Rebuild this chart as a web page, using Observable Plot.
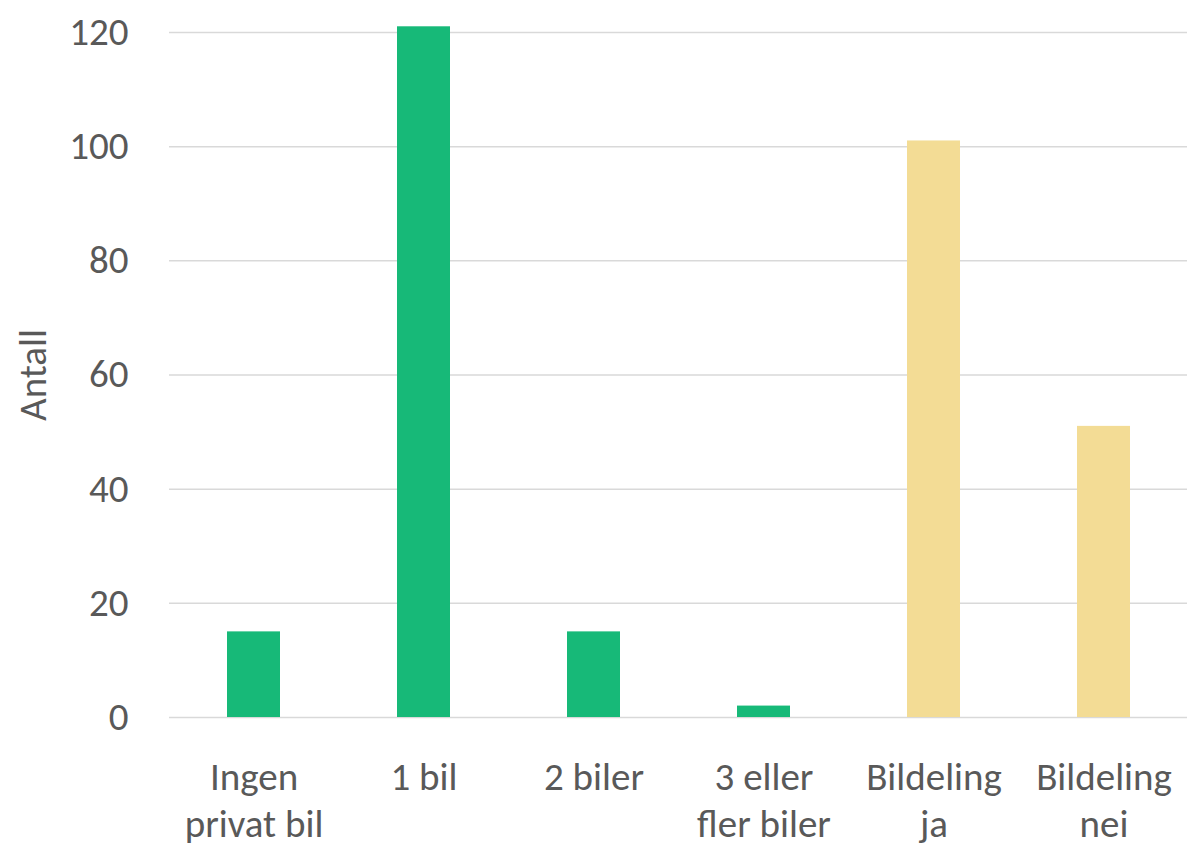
<!DOCTYPE html>
<html>
<head>
<meta charset="utf-8">
<script src="https://cdn.jsdelivr.net/npm/d3@7"></script>
<script src="https://cdn.jsdelivr.net/npm/@observablehq/plot@0.6"></script>
<style>
  html, body { margin: 0; padding: 0; background: #fff; }
  #chart { width: 1187px; height: 844px; }
</style>
</head>
<body>
<div id="chart"></div>
<script>
const categories = ["Ingen privat bil", "1 bil", "2 biler", "3 eller fler biler", "Bildeling ja", "Bildeling nei"];
const tickLabels = ["Ingen\nprivat bil", "1 bil", "2 biler", "3 eller\nfler biler", "Bildeling\nja", "Bildeling\nnei"];
const values = [15, 121, 15, 2, 101, 51];
const groups = ["bil", "bil", "bil", "bil", "deling", "deling"];
const yTicks = [0, 20, 40, 60, 80, 100, 120];

const data = categories.map((c, i) => ({category: c, value: values[i], group: groups[i]}));
const labelOf = new Map(categories.map((c, i) => [c, tickLabels[i]]));

const chart = Plot.plot({
  width: 1187,
  height: 844,
  marginLeft: 169,
  marginRight: 0,
  marginTop: 32,
  marginBottom: 127,
  style: {fontFamily: "Carlito, Calibri, Lato, 'Open Sans', sans-serif", color: "#595959", background: "#fff"},
  x: {domain: categories, range: [169, 1189], paddingInner: 0.688, paddingOuter: 0.344},
  y: {domain: [0, 120]},
  color: {domain: ["bil", "deling"], range: ["#17B978", "#F3DC95"]},
  marks: [
    Plot.ruleY(yTicks, {stroke: "#d9d9d9", strokeWidth: 1.5}),
    Plot.barY(data, {x: "category", y: "value", fill: "group"}),
    Plot.axisY({ticks: yTicks, tickSize: 0, tickPadding: 41, fontSize: 39, label: "Antall", labelAnchor: "center", labelOffset: 151, labelArrow: "none"}),
    Plot.axisX({tickSize: 0, tickPadding: 39, fontSize: 39, lineHeight: 1.2, tickFormat: d => labelOf.get(d), label: null})
  ]
});
document.getElementById("chart").appendChild(chart);
</script>
</body>
</html>
